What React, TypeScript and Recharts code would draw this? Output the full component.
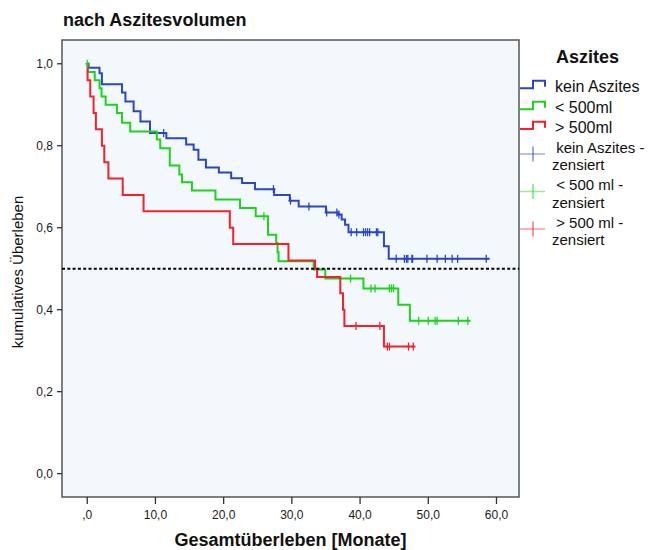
import React from 'react';
import {
  ComposedChart,
  Line,
  Scatter,
  XAxis,
  YAxis,
  CartesianGrid,
  ReferenceLine,
  ReferenceArea,
} from 'recharts';

// ---- data ----
const blueTimes = [0, 0.2, 1.8, 2.15, 5.1, 5.6, 6.8, 7.8, 9.2, 11.6, 14.5, 15.6, 16.3, 17.4, 19.3, 21.1, 22.7, 24.6, 27.4, 29.7, 31.0, 35.0, 36.8, 37.3, 37.8, 38.3, 43.5, 44.2, 59.0];
const blueSurv = [1.0, 0.99, 0.977, 0.95, 0.93, 0.908, 0.884, 0.859, 0.831, 0.818, 0.803, 0.79, 0.766, 0.747, 0.735, 0.721, 0.709, 0.694, 0.68, 0.666, 0.652, 0.637, 0.632, 0.62, 0.607, 0.589, 0.555, 0.524, 0.524];
const blueCensored = [11.2, 27.3, 29.8, 32.5, 35.1, 36.6, 36.9, 38.7, 39.5, 40.5, 40.8, 41.1, 41.4, 42.4, 42.6, 45.3, 46.5, 46.8, 47.0, 47.6, 47.7, 49.8, 51.3, 52.5, 53.5, 54.3, 58.5];

const greenTimes = [0, 0.1, 1.1, 1.8, 2.1, 2.7, 4.35, 5.1, 6.3, 10.2, 10.7, 12.1, 13.5, 13.9, 15.35, 18.8, 22.4, 24.7, 26.5, 27.7, 27.9, 28.05, 33.2, 34.9, 40.5, 45.6, 47.3, 56.2];
const greenSurv = [1.0, 0.98, 0.96, 0.94, 0.92, 0.9, 0.88, 0.856, 0.835, 0.815, 0.794, 0.752, 0.73, 0.711, 0.691, 0.669, 0.648, 0.628, 0.583, 0.563, 0.54, 0.518, 0.498, 0.476, 0.452, 0.412, 0.373, 0.373];
const greenCensored = [0, 25.9, 38.6, 41.6, 42.2, 44.3, 44.6, 44.9, 48.6, 50.0, 51.0, 51.3, 54.4, 55.8];

const redTimes = [0, 0.05, 0.44, 0.93, 1.27, 2.15, 2.5, 3.1, 5.2, 8.26, 20.9, 21.4, 29.5, 33.4, 33.7, 37.1, 37.5, 37.7, 43.5, 48.1];
const redSurv = [1.0, 0.96, 0.92, 0.88, 0.84, 0.8, 0.76, 0.72, 0.68, 0.64, 0.6, 0.56, 0.52, 0.5, 0.48, 0.44, 0.4, 0.36, 0.31, 0.31];
const redCensored = [39.4, 42.9, 44.0, 44.3, 47.1, 47.8];

const xTicks = [0, 10, 20, 30, 40, 50, 60];
const yTicks = [0, 0.2, 0.4, 0.6, 0.8, 1.0];
const medianLevel = 0.5;

const seriesNames = ['kein Aszites', '< 500ml', '> 500ml'];
const censorNames = [[' kein Aszites -', 'zensiert'], [' < 500 ml -', 'zensiert'], [' > 500 ml -', 'zensiert']];

// ---- styling ----
const BLUE = '#2B46C8';
const GREEN = '#1ED21E';
const RED = '#F7202A';
const COLORS = [BLUE, GREEN, RED];
const FONT = '"Liberation Sans", Arial, sans-serif';

const X_DOMAIN: [number, number] = [-3.7, 63.3];
const Y_DOMAIN: [number, number] = [-0.057, 1.058];

// ---- helpers ----
const toSteps = (times: number[], surv: number[]) => times.map((t, i) => ({ t, s: surv[i] }));
const stepValueAt = (times: number[], surv: number[], x: number) => {
  let v = surv[0];
  for (let i = 0; i < times.length; i++) if (times[i] <= x) v = surv[i];
  return v;
};
const censorPoints = (times: number[], surv: number[], cens: number[]) =>
  cens.map((c) => ({ t: c, s: stepValueAt(times, surv, c) }));

const blueData = toSteps(blueTimes, blueSurv);
const greenData = toSteps(greenTimes, greenSurv);
const redData = toSteps(redTimes, redSurv);
const blueCens = censorPoints(blueTimes, blueSurv, blueCensored);
const greenCens = censorPoints(greenTimes, greenSurv, greenCensored);
const redCens = censorPoints(redTimes, redSurv, redCensored);

const makeCensorShape = (color: string) => (props: any) => {
  const { cx, cy } = props;
  if (cx == null || cy == null) return <g />;
  return (
    <g>
      <line x1={cx} x2={cx} y1={cy - 4} y2={cy + 4} stroke={color} strokeWidth={1.3} />
      <line x1={cx - 2} x2={cx + 2} y1={cy} y2={cy} stroke={color} strokeWidth={1.3} />
    </g>
  );
};

const fmtX = (v: number) => (v === 0 ? ',0' : v.toFixed(1).replace('.', ','));
const fmtY = (v: number) => v.toFixed(1).replace('.', ',');

const Overlay = () => {
  const stepIconY = [[88.3, 80.7], [109.3, 101.7], [129, 121.7]];
  const stepTextY = [91.7, 113.3, 132.7];
  const plusY = [154, 191.5, 229];
  const plusTextY = [[152.5, 170], [190, 207.5], [227.5, 245]];
  return (
    <svg
      width={652}
      height={550}
      style={{ position: 'absolute', left: 0, top: 0, pointerEvents: 'none' }}
      fontFamily={FONT}
    >
      <text x={63} y={26} fontSize={18} fontWeight="bold" fill="#111">
        nach Aszitesvolumen
      </text>
      <text x={290.5} y={546} fontSize={18} fontWeight="bold" fill="#111" textAnchor="middle">
        Gesamtüberleben [Monate]
      </text>
      <text
        x={0}
        y={0}
        fontSize={15}
        fill="#111"
        textAnchor="middle"
        transform="translate(23,272) rotate(-90)"
      >
        kumulatives Überleben
      </text>
      {/* legend */}
      <text x={556} y={63} fontSize={18} fontWeight="bold" fill="#111">
        Aszites
      </text>
      {seriesNames.map((name, i) => (
        <g key={name}>
          <polyline
            points={`520,${stepIconY[i][0]} 533,${stepIconY[i][0]} 533,${stepIconY[i][1]} 545,${stepIconY[i][1]} 545,${stepIconY[i][1] + 6}`}
            fill="none"
            stroke={COLORS[i]}
            strokeWidth={2}
          />
          <text x={555} y={stepTextY[i]} fontSize={16} fill="#111">
            {name}
          </text>
        </g>
      ))}
      {censorNames.map((lines, i) => (
        <g key={i}>
          <line x1={520} x2={545} y1={plusY[i]} y2={plusY[i]} stroke={COLORS[i]} strokeWidth={1.5} strokeOpacity={0.45} />
          <line x1={533} x2={533} y1={plusY[i] - 7.5} y2={plusY[i] + 7.5} stroke={COLORS[i]} strokeWidth={1.2} strokeOpacity={0.8} />
          <text x={552} y={plusTextY[i][0]} fontSize={15} fill="#111" style={{ whiteSpace: 'pre' }}>
            {lines[0]}
          </text>
          <text x={552} y={plusTextY[i][1]} fontSize={15} fill="#111">
            {lines[1]}
          </text>
        </g>
      ))}
    </svg>
  );
};

export default function App() {
  return (
    <div style={{ position: 'absolute', left: 0, top: 0, width: 652, height: 550, background: '#ffffff' }}>
      <ComposedChart width={652} height={550} margin={{ top: 40, right: 133, bottom: 0, left: 0 }}>
        <CartesianGrid fill="#F3F8FD" horizontal={false} vertical={false} />
        <XAxis
          dataKey="t"
          type="number"
          domain={X_DOMAIN}
          ticks={xTicks}
          tickFormatter={fmtX}
          allowDataOverflow
          height={53}
          axisLine={false}
          tickSize={7}
          tickMargin={6}
          tickLine={{ stroke: '#333', strokeWidth: 1.3 }}
          tick={{ fontSize: 12, fill: '#1a1a1a', fontFamily: FONT }}
        />
        <YAxis
          dataKey="s"
          type="number"
          domain={Y_DOMAIN}
          ticks={yTicks}
          tickFormatter={fmtY}
          allowDataOverflow
          width={62}
          axisLine={false}
          tickSize={5}
          tickMargin={4}
          tickLine={{ stroke: '#333', strokeWidth: 1.3 }}
          tick={{ fontSize: 12, fill: '#1a1a1a', fontFamily: FONT }}
        />
        <ReferenceArea
          x1={X_DOMAIN[0]}
          x2={X_DOMAIN[1]}
          y1={Y_DOMAIN[0]}
          y2={Y_DOMAIN[1]}
          fill="none"
          stroke="#555"
          strokeWidth={1.5}
          ifOverflow="visible"
        />
        <Line data={blueData} dataKey="s" type="stepAfter" stroke={BLUE} strokeWidth={2} dot={false} isAnimationActive={false} />
        <Line data={greenData} dataKey="s" type="stepAfter" stroke={GREEN} strokeWidth={2} dot={false} isAnimationActive={false} />
        <Line data={redData} dataKey="s" type="stepAfter" stroke={RED} strokeWidth={2} dot={false} isAnimationActive={false} />
        <Scatter data={blueCens} dataKey="s" shape={makeCensorShape(BLUE)} isAnimationActive={false} />
        <Scatter data={greenCens} dataKey="s" shape={makeCensorShape(GREEN)} isAnimationActive={false} />
        <Scatter data={redCens} dataKey="s" shape={makeCensorShape(RED)} isAnimationActive={false} />
        <ReferenceLine y={medianLevel} stroke="#000" strokeWidth={2} strokeDasharray="3 2.3" ifOverflow="visible" />
      </ComposedChart>
      <Overlay />
    </div>
  );
}
